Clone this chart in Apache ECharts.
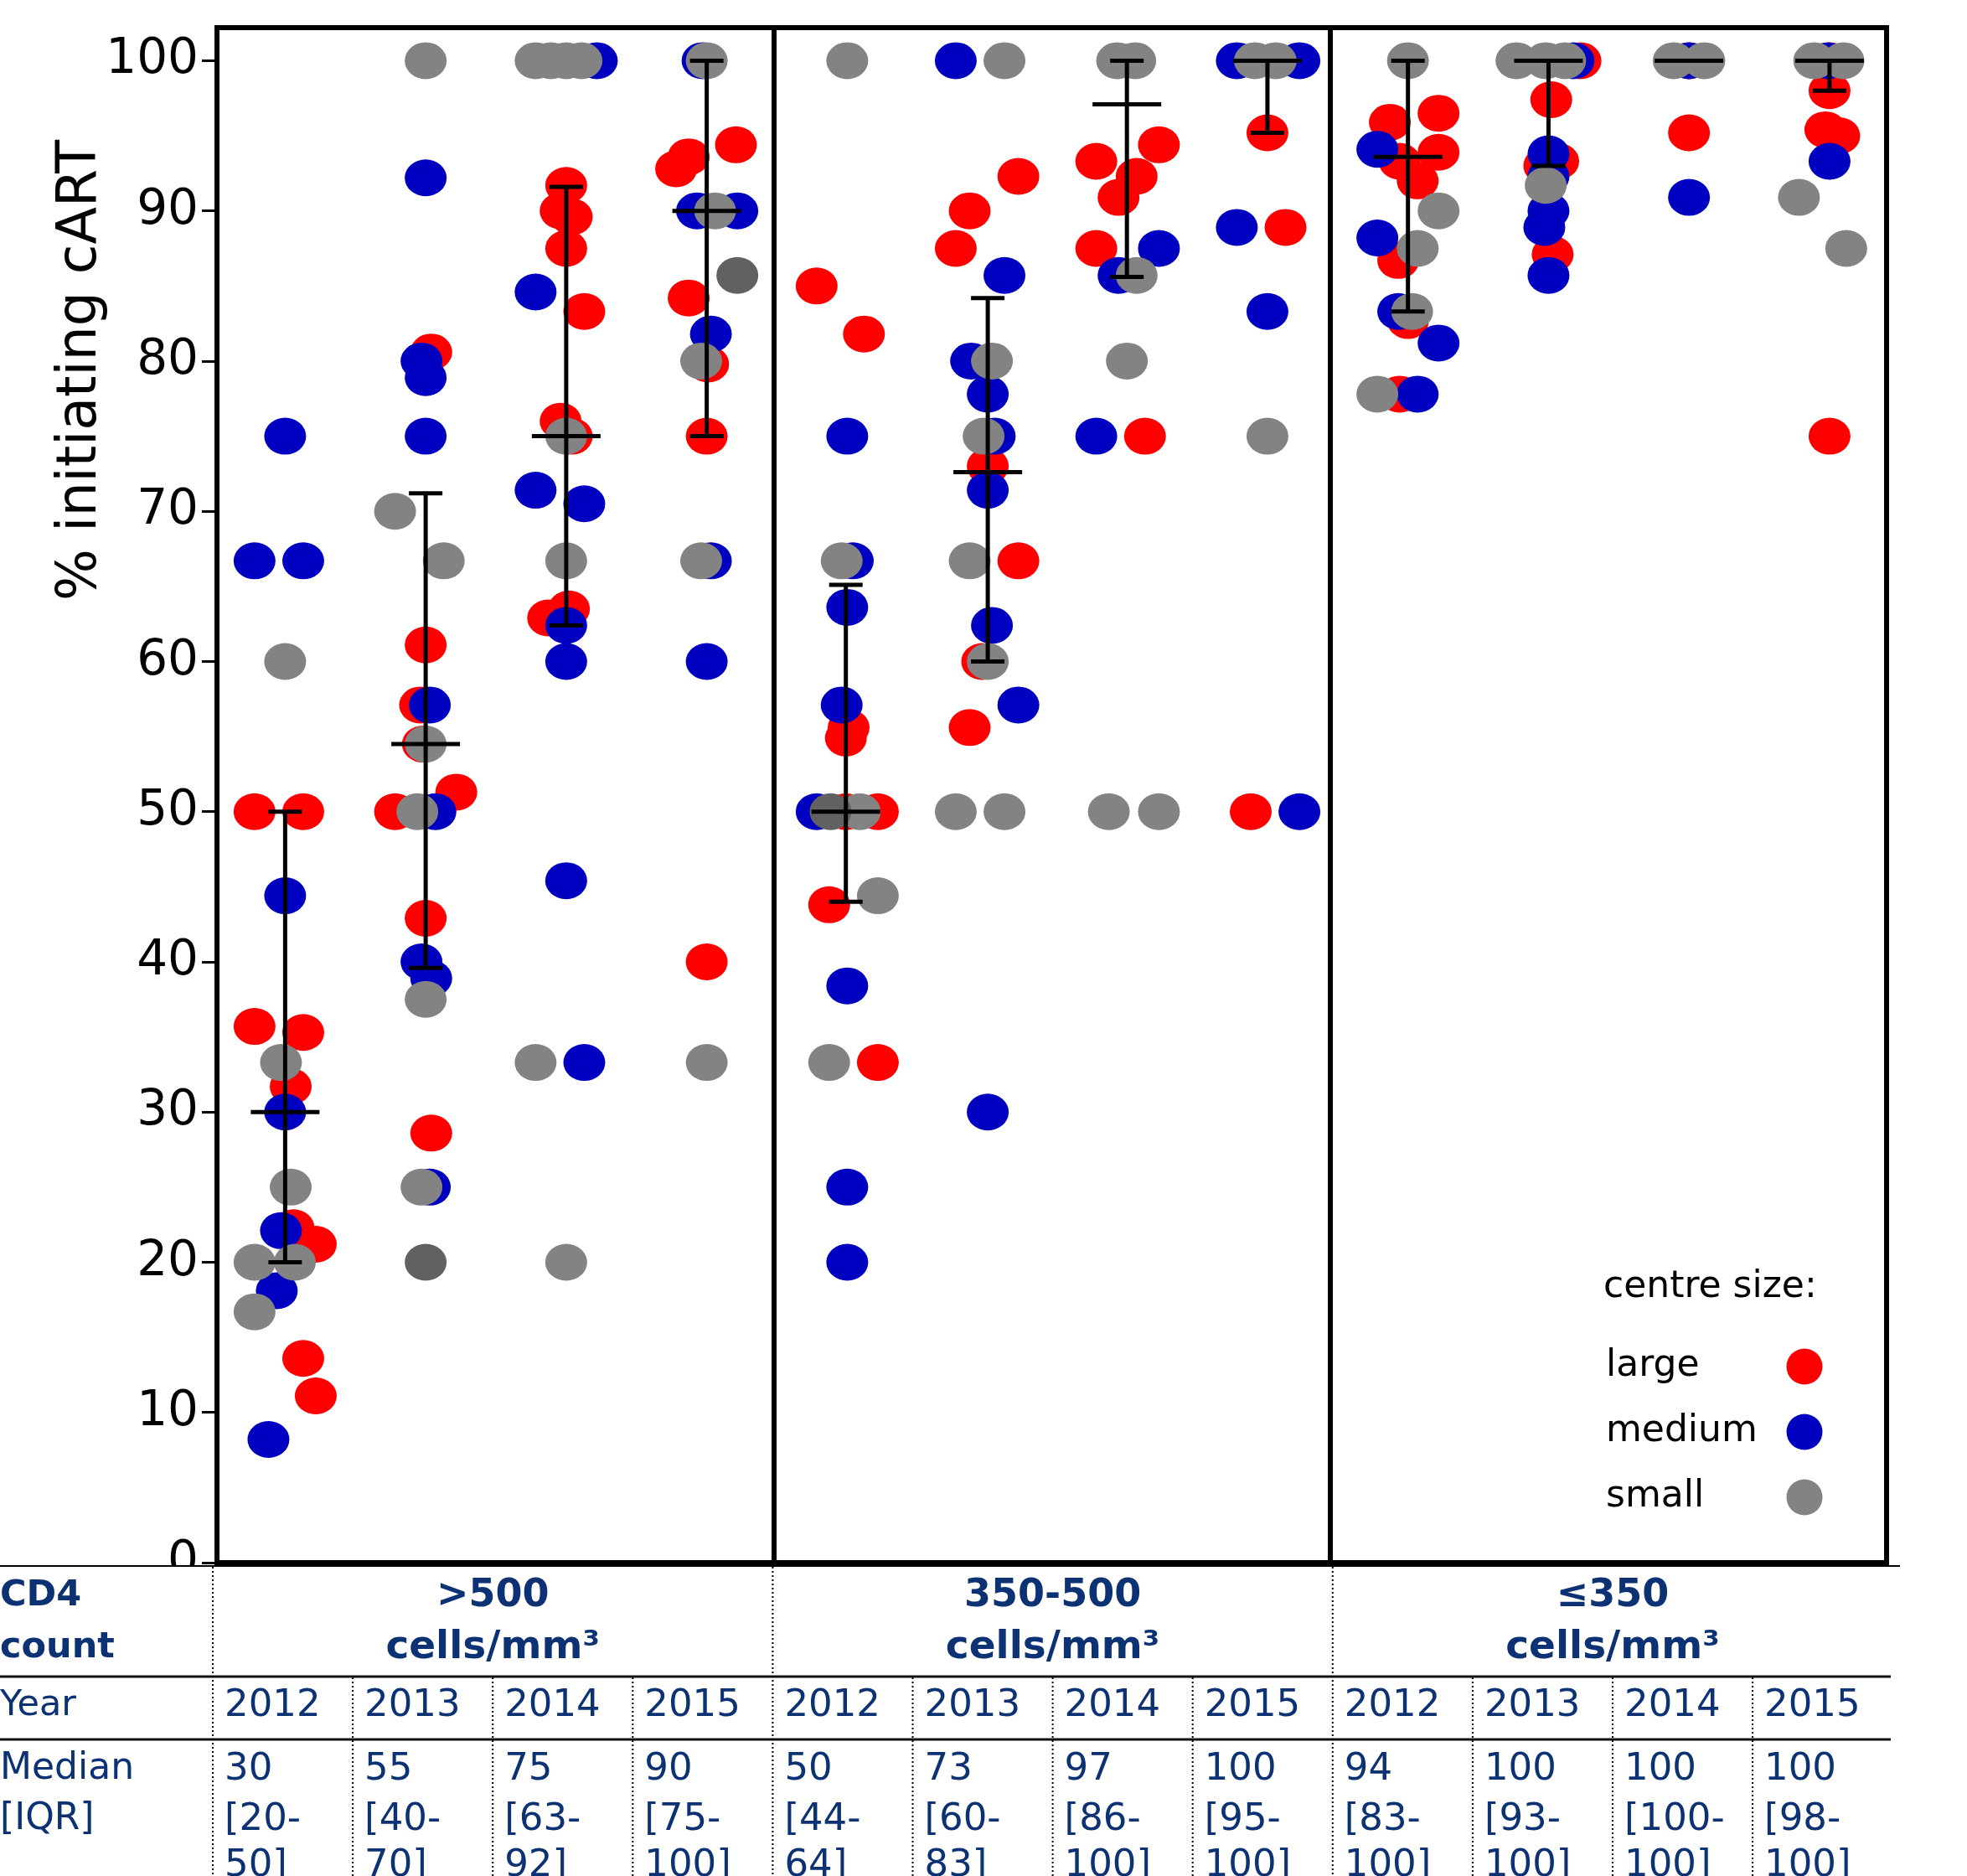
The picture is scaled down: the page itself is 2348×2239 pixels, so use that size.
<!DOCTYPE html>
<html>
<head>
<meta charset="utf-8">
<script src="https://cdn.jsdelivr.net/npm/echarts@6/dist/echarts.min.js"></script>
<style>
html,body{margin:0;padding:0;background:#fff}
#main{width:2348px;height:2239px}
</style>
</head>
<body>
<div id="main"></div>
<script>
// x = year column (0-12, jittered inside the column), y = % initiating cART
var largePts = [
  [0.27,50],[0.62,50],[0.27,35.7],[0.62,35.3],[0.53,31.7],[0.55,22.3],[0.71,21.2],[0.62,13.6],[0.71,11.1],
  [1.54,80.6],[1.46,57.1],[1.48,54.5],[1.72,51.3],[1.28,50],[1.5,61.1],[1.5,42.9],[1.54,28.6],
  [2.51,91.7],[2.47,90],[2.55,89.6],[2.51,87.5],[2.64,83.3],[2.47,76],[2.55,75],[2.53,63.5],[2.38,62.9],
  [3.73,94.4],[3.39,93.6],[3.30,92.8],[3.39,84.2],[3.53,79.8],[3.52,75],[3.52,40],
  [4.31,85],[4.65,81.8],[4.54,55.6],[4.52,54.9],[4.52,50],[4.75,50],[4.40,43.8],[4.75,33.3],
  [5.76,92.3],[5.41,90],[5.31,87.5],[5.54,73],[5.76,66.7],[5.50,60],[5.41,55.6],
  [6.77,94.4],[6.32,93.3],[6.61,92.3],[6.48,90.9],[6.32,87.5],[6.67,75],
  [7.55,95.2],[7.68,88.9],[7.43,50],
  [8.78,96.5],[8.43,95.9],[8.78,93.9],[8.50,93.3],[8.63,92],[8.49,86.7],[8.56,82.7],[8.50,77.8],
  [9.80,100],[9.59,97.4],[9.54,93],[9.64,93.3],[9.60,87.1],
  [10.58,100],[10.58,95.2],
  [11.59,100],[11.59,98],[11.56,95.4],[11.66,95],[11.59,75]
];
var mediumPts = [
  [0.49,75],[0.27,66.7],[0.62,66.7],[0.49,44.4],[0.49,30],[0.46,22.1],[0.43,18.1],[0.37,8.2],
  [1.5,92.2],[1.47,80],[1.5,78.9],[1.5,75],[1.53,57.1],[1.57,50],[1.47,40],[1.54,38.9],[1.53,25],
  [2.73,100],[2.29,84.6],[2.29,71.4],[2.64,70.5],[2.51,62.4],[2.51,60],[2.51,45.4],[2.64,33.3],
  [3.49,100],[3.45,90],[3.74,90],[3.55,81.8],[3.55,66.7],[3.52,60],
  [4.53,75],[4.57,66.7],[4.53,63.6],[4.49,57.1],[4.31,50],[4.53,38.4],[4.53,25],[4.53,20],
  [5.31,100],[5.66,85.7],[5.42,80],[5.54,77.8],[5.59,75],[5.54,71.4],[5.57,62.4],[5.76,57.1],[5.54,30],
  [6.77,87.5],[6.48,85.7],[6.32,75],
  [7.33,100],[7.78,100],[7.33,88.9],[7.55,83.3],[7.78,50],
  [8.34,94.1],[8.34,88.2],[8.49,83.3],[8.78,81.2],[8.63,77.8],
  [9.75,100],[9.57,93.8],[9.57,92.3],[9.57,90],[9.54,88.9],[9.57,85.7],
  [10.58,100],[10.58,90.9],
  [11.58,100],[11.59,93.3]
];
var smallPts = [
  [0.49,60],[0.46,33.3],[0.53,25],[0.27,20],[0.56,20],[0.27,16.7],
  [1.5,100],[1.28,70],[1.63,66.7],[1.5,54.5],[1.44,50],[1.5,37.5],[1.47,25],
  [2.29,100],[2.40,100],[2.51,100],[2.62,100],[2.51,75],[2.51,66.7],[2.29,33.3],[2.51,20],
  [3.52,100],[3.58,90],[3.48,80],[3.48,66.7],[3.52,33.3],
  [4.53,100],[4.49,66.7],[4.62,50],[4.75,44.4],[4.40,33.3],
  [5.66,100],[5.57,80],[5.51,75],[5.54,60],[5.41,66.7],[5.31,50],[5.66,50],
  [6.47,100],[6.60,100],[6.61,85.7],[6.54,80],[6.41,50],[6.77,50],
  [7.46,100],[7.61,100],[7.55,75],
  [8.56,100],[8.78,90],[8.63,87.5],[8.59,83.3],[8.34,77.8],
  [9.34,100],[9.55,100],[9.69,100],[9.55,91.7],
  [10.47,100],[10.69,100],
  [11.48,100],[11.69,100],[11.37,90.9],[11.71,87.5]
];
// small-centre points that sit on top of each other (drawn darker)
var smallStacked = [[1.5,20],[3.74,85.7],[4.41,50]];

// median and interquartile range per column, as drawn
var barX   = [0.49,1.5,2.51,3.52,4.52,5.54,6.54,7.55,8.56,9.57,10.58,11.59];
var barMed = [30,54.5,75,90,50,72.6,97.1,100,93.6,100,100,100];
var barLo  = [20,39.6,62.4,75,44,60,85.6,95.2,83.3,93,100,98];
var barHi  = [50,71.2,91.6,100,65.1,84.2,100,100,100,100,100,100];

var yTicks = [0,10,20,30,40,50,60,70,80,90,100];

// table below the plot
var cd4Groups = ['>500', '350-500', '\u2264350'];
var years = ['2012','2013','2014','2015'];
var medians = ['30','55','75','90','50','73','97','100','94','100','100','100'];
var iqrLo = ['[20-','[40-','[63-','[75-','[44-','[60-','[86-','[95-','[83-','[93-','[100-','[98-'];
var iqrHi = ['50]','70]','92]','100]','64]','83]','100]','100]','100]','100]','100]','100]'];

var FONT = 'DejaVu Sans';
var NAVY = '#0c3274';
var ELLIPSE = 'path://M0 1A1 1 0 1 1 2 1A1 1 0 1 1 0 1Z';

var myChart = echarts.init(document.getElementById('main'));

function tableGraphics() {
  var els = [];
  var left = 254, colW = 167.1, right = 2257;
  els.push({type:'rect', z:100, shape:{x:0, y:1869, width:2348, height:370}, style:{fill:'#fff'}});
  els.push({type:'line', z:101, shape:{x1:0, y1:1869, x2:2268, y2:1869}, style:{stroke:'#000', lineWidth:2}});
  els.push({type:'line', z:101, shape:{x1:0, y1:2001, x2:right, y2:2001}, style:{stroke:'#111', lineWidth:3}});
  els.push({type:'line', z:101, shape:{x1:0, y1:2076, x2:right, y2:2076}, style:{stroke:'#111', lineWidth:3}});
  var dotted = {stroke:'#000', lineWidth:2, lineDash:[2,3]};
  for (var k = 0; k < 12; k++) {
    var bx = left + k * colW;
    var full = (k % 4 === 0);
    els.push({type:'line', z:101, shape:{x1:bx, y1:full ? 1870 : 2002, x2:bx, y2:2239}, style:dotted});
  }
  function txt(s, x, y, opt) {
    opt = opt || {};
    els.push({type:'text', z:102, x:x, y:y, style:{
      text:s, fill:NAVY, fontFamily:FONT, fontSize:opt.size || 45,
      fontWeight:opt.bold ? 'bold' : 'normal', align:opt.align || 'left', verticalAlign:'middle'
    }});
  }
  txt('CD4', 0, 1905, {bold:true, size:43});
  txt('count', 0, 1967, {bold:true, size:43});
  for (var g = 0; g < cd4Groups.length; g++) {
    var cx = left + (g * 4 + 2) * colW;
    txt(cd4Groups[g], cx, 1905, {bold:true, size:46, align:'center'});
    txt('cells/mm\u00b3', cx, 1967, {bold:true, size:47, align:'center'});
  }
  txt('Year', 0, 2036, {size:43});
  txt('Median', 0, 2112, {size:44});
  txt('[IQR]', 0, 2172, {size:44});
  for (var c = 0; c < 12; c++) {
    var tx = left + c * colW + 14;
    txt(years[c % 4], tx, 2036);
    txt(medians[c], tx, 2112);
    txt(iqrLo[c], tx, 2172);
    txt(iqrHi[c], tx, 2227);
  }
  return els;
}

function renderBar(params, api) {
  var x = api.value(0);
  var med = api.coord([x, api.value(1)]);
  var lo = api.coord([x, api.value(2)]);
  var hi = api.coord([x, api.value(3)]);
  var st = {stroke:'#000', lineWidth:5};
  var kids = [];
  if (Math.abs(hi[1] - lo[1]) > 0.5) {
    kids.push({type:'line', shape:{x1:lo[0], y1:lo[1], x2:hi[0], y2:hi[1]}, style:st});
    kids.push({type:'line', shape:{x1:lo[0]-20, y1:lo[1], x2:lo[0]+20, y2:lo[1]}, style:st});
    kids.push({type:'line', shape:{x1:hi[0]-20, y1:hi[1], x2:hi[0]+20, y2:hi[1]}, style:st});
  }
  kids.push({type:'line', shape:{x1:med[0]-41, y1:med[1], x2:med[0]+41, y2:med[1]}, style:st});
  return {type:'group', children:kids};
}

var barData = barX.map(function (x, i) { return [x, barMed[i], barLo[i], barHi[i]]; });

var option = {
  animation: false,
  backgroundColor: '#fff',
  grid: {left:259, right:96, top:33, bottom:374, show:true, borderColor:'#000', borderWidth:6},
  xAxis: {
    type:'value', min:0, max:12, interval:4,
    axisLabel:{show:false}, axisTick:{show:false}, axisLine:{show:false},
    splitLine:{show:true, lineStyle:{color:'#000', width:6}}
  },
  yAxis: {
    type:'value', min:0, max:102.2,
    axisLine:{show:true, lineStyle:{color:'#000', width:6}},
    axisTick:{show:true, length:18, customValues:yTicks, lineStyle:{color:'#000', width:3}},
    axisLabel:{customValues:yTicks, fontSize:58, fontFamily:FONT, color:'#000', margin:22},
    splitLine:{show:false}
  },
  legend: {
    data:['large','medium','small'],
    orient:'vertical', left:1912, top:1604, align:'right',
    itemWidth:48, itemHeight:43, itemGap:34, selectedMode:false,
    formatter:function (name) { return '{n|' + name + '}'; },
    textStyle:{color:'#000', fontFamily:FONT, fontSize:44,
      rich:{n:{width:208, align:'left', fontSize:44, fontFamily:FONT, color:'#000'}}}
  },
  graphic: [
    {type:'text', x:97, y:442, rotation:Math.PI/2, style:{
      text:'% initiating cART', fill:'#000', fontFamily:FONT, fontSize:65, align:'center', verticalAlign:'middle'}},
    {type:'text', x:1914, y:1537, style:{
      text:'centre size:', fill:'#000', fontFamily:FONT, fontSize:44, align:'left', verticalAlign:'middle'}}
  ].concat(tableGraphics()),
  series: [
    {name:'large', type:'scatter', data:largePts, symbol:ELLIPSE, symbolSize:[50,44],
     itemStyle:{color:'#ff0000', opacity:1}, emphasis:{disabled:true}},
    {name:'medium', type:'scatter', data:mediumPts, symbol:ELLIPSE, symbolSize:[50,44],
     itemStyle:{color:'#0000c0', opacity:1}, emphasis:{disabled:true}},
    {name:'small', type:'scatter', data:smallPts, symbol:ELLIPSE, symbolSize:[50,44],
     itemStyle:{color:'#838383', opacity:1}, emphasis:{disabled:true}},
    {name:'small (stacked)', type:'scatter', data:smallStacked, symbol:ELLIPSE, symbolSize:[50,44],
     itemStyle:{color:'#616161', opacity:1}, emphasis:{disabled:true}},
    {name:'median [IQR]', type:'custom', data:barData, renderItem:renderBar, z:5}
  ]
};
myChart.setOption(option);
</script>
</body>
</html>
